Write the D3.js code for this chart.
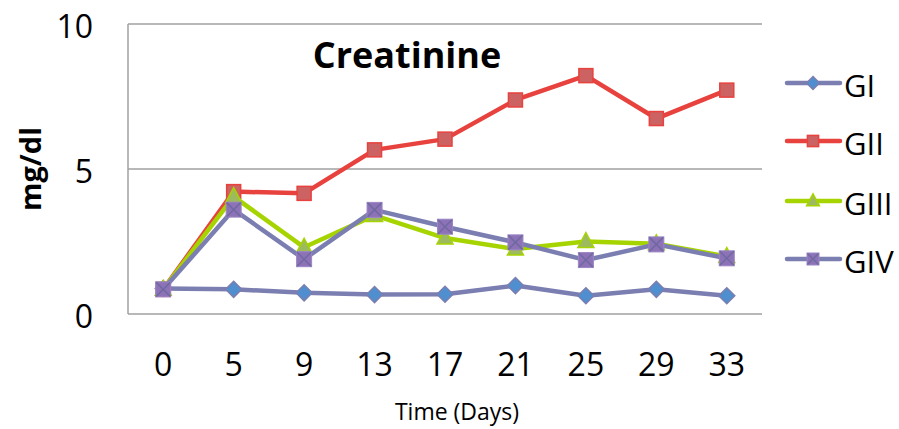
<!DOCTYPE html>
<html>
<head>
<meta charset="utf-8">
<script src="https://cdn.jsdelivr.net/npm/d3@7"></script>
<style>
  body { margin: 0; background: #fff; }
  text { font-family: "Open Sans", Lato, "Liberation Sans", sans-serif; }
</style>
</head>
<body>
<svg width="899" height="429"></svg>
<script>
// data
var days = ['0', '5', '9', '13', '17', '21', '25', '29', '33'];
var gI   = [0.88, 0.85, 0.73, 0.67, 0.68, 0.98, 0.63, 0.85, 0.63];
var gII  = [0.85, 4.22, 4.16, 5.66, 6.03, 7.38, 8.22, 6.74, 7.72];
var gIII = [0.85, 4.05, 2.30, 3.40, 2.62, 2.24, 2.50, 2.42, 1.98];
var gIV  = [0.85, 3.60, 1.89, 3.59, 3.01, 2.47, 1.86, 2.40, 1.92];
var yTicks = [0, 5, 10];

var series = [
  { name: 'GI',   values: gI,   line: '#7b7eb0', fill: '#4f8fcf', stroke: '#7b7eb0', shape: 'diamond' },
  { name: 'GII',  values: gII,  line: '#e8423e', fill: '#cc6262', stroke: '#e8423e', shape: 'square' },
  { name: 'GIII', values: gIII, line: '#a6d400', fill: '#9dbb5e', stroke: '#a6d400', shape: 'triangle' },
  { name: 'GIV',  values: gIV,  line: '#7b7eb0', fill: '#8e72b8', stroke: '#9a86c4', shape: 'xsquare' }
];

var svg = d3.select('svg');
var plotL = 128, plotR = 762, plotT = 24, plotB = 314;

var x = d3.scaleBand().domain(days).range([plotL, plotR]);
var y = d3.scaleLinear().domain([0, 10]).range([plotB, plotT]);

// gridlines
svg.append('g').selectAll('line').data(yTicks.filter(function (d) { return d > 0; }))
  .enter().append('line')
  .attr('x1', plotL).attr('x2', plotR)
  .attr('y1', function (d) { return y(d); }).attr('y2', function (d) { return y(d); })
  .attr('stroke', '#a0a0a0').attr('stroke-width', 1.5);

// axes lines
svg.append('line').attr('x1', plotL).attr('x2', plotL).attr('y1', plotT).attr('y2', plotB)
  .attr('stroke', '#a0a0a0').attr('stroke-width', 1.5);
svg.append('line').attr('x1', plotL).attr('x2', plotR).attr('y1', plotB).attr('y2', plotB)
  .attr('stroke', '#a0a0a0').attr('stroke-width', 1.5);

// y tick labels
svg.append('g').selectAll('text').data(yTicks).enter().append('text')
  .attr('x', 93).attr('y', function (d) { return y(d) + 14; })
  .attr('text-anchor', 'end').attr('font-size', 32).attr('fill', '#000')
  .text(function (d) { return d; });

// x tick labels
svg.append('g').selectAll('text').data(days).enter().append('text')
  .attr('x', function (d) { return x(d) + x.bandwidth() / 2; }).attr('y', 376)
  .attr('text-anchor', 'middle').attr('font-size', 32).attr('fill', '#000')
  .text(function (d) { return d; });

// axis titles
svg.append('text').attr('x', 457).attr('y', 420).attr('text-anchor', 'middle')
  .attr('font-size', 23).text('Time (Days)');
svg.append('text').attr('transform', 'translate(41,169) rotate(-90)')
  .attr('text-anchor', 'middle').attr('font-size', 29).attr('font-weight', 'bold')
  .text('mg/dl');

// chart title
svg.append('text').attr('x', 407).attr('y', 68).attr('text-anchor', 'middle')
  .attr('font-size', 36).attr('font-weight', 'bold').text('Creatinine');

function drawMarker(g, s, cx, cy, k) {
  k = k || 1;
  if (s.shape === 'diamond') {
    var r = 8 * k;
    g.append('path').attr('d', 'M' + cx + ',' + (cy - r) + 'L' + (cx + r) + ',' + cy + 'L' + cx + ',' + (cy + r) + 'L' + (cx - r) + ',' + cy + 'Z')
      .attr('fill', s.fill).attr('stroke', s.stroke).attr('stroke-width', 1.5);
  } else if (s.shape === 'square') {
    var h = 7 * k;
    g.append('rect').attr('x', cx - h).attr('y', cy - h).attr('width', 2 * h).attr('height', 2 * h)
      .attr('fill', s.fill).attr('stroke', s.stroke).attr('stroke-width', 1.5);
  } else if (s.shape === 'triangle') {
    g.append('path').attr('d', 'M' + cx + ',' + (cy - 9 * k) + 'L' + (cx + 8 * k) + ',' + (cy + 6 * k) + 'L' + (cx - 8 * k) + ',' + (cy + 6 * k) + 'Z')
      .attr('fill', s.fill).attr('stroke', s.stroke).attr('stroke-width', 1.5);
  } else {
    var q = 7.5 * k;
    g.append('rect').attr('x', cx - q).attr('y', cy - q).attr('width', 2 * q).attr('height', 2 * q)
      .attr('fill', s.fill).attr('stroke', s.stroke).attr('stroke-width', 1);
    g.append('path').attr('d', 'M' + (cx - q + 0.5) + ',' + (cy - q + 0.5) + 'L' + (cx + q - 0.5) + ',' + (cy + q - 0.5) + 'M' + (cx + q - 0.5) + ',' + (cy - q + 0.5) + 'L' + (cx - q + 0.5) + ',' + (cy + q - 0.5))
      .attr('stroke', '#6e6aa0').attr('stroke-width', 1.5);
  }
}

var line = d3.line()
  .x(function (d, i) { return x(days[i]) + x.bandwidth() / 2; })
  .y(function (d) { return y(d); });

// draw series in order GI, GII, GIII, GIV
series.forEach(function (s) {
  var g = svg.append('g');
  g.append('path').datum(s.values).attr('d', line)
    .attr('fill', 'none').attr('stroke', s.line).attr('stroke-width', 4.5)
    .attr('stroke-linejoin', 'round');
  s.values.forEach(function (v, i) {
    drawMarker(g, s, x(days[i]) + x.bandwidth() / 2, y(v));
  });
});

// legend
var legY = [83, 141, 201, 259];
series.forEach(function (s, i) {
  var g = svg.append('g');
  g.append('line').attr('x1', 787).attr('x2', 840).attr('y1', legY[i]).attr('y2', legY[i])
    .attr('stroke', s.line).attr('stroke-width', 4.5).attr('stroke-linecap', 'round');
  drawMarker(g, s, 813, legY[i], 0.8);
  g.append('text').attr('x', 844).attr('y', legY[i] + 14).attr('font-size', 31)
    .attr('fill', '#000').text(s.name);
});
</script>
</body>
</html>
